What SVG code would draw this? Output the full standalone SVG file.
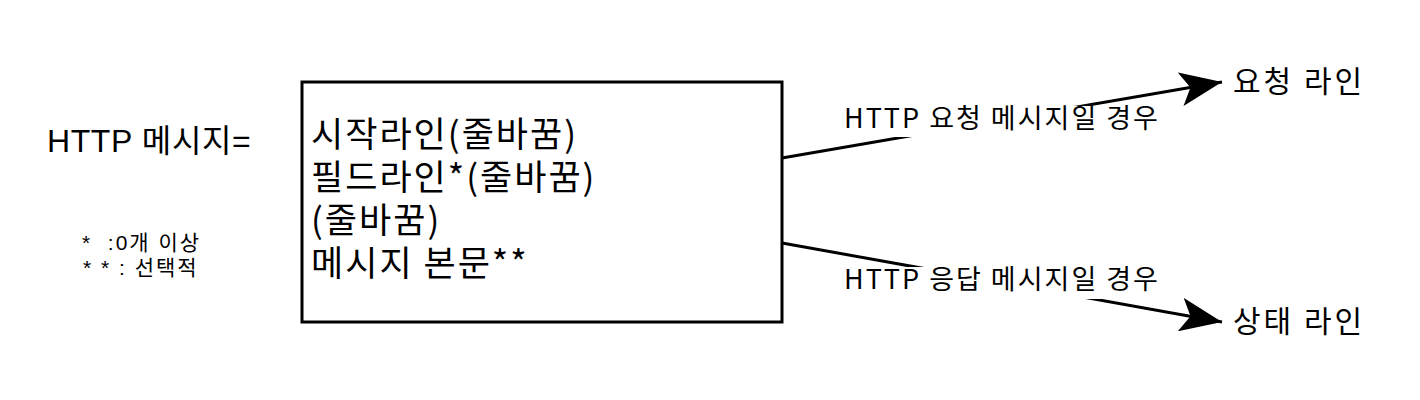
<svg xmlns="http://www.w3.org/2000/svg" width="1420" height="400" viewBox="0 0 1420 400">
<style>
  text { font-family: "Liberation Sans", "Noto Sans CJK KR", sans-serif; fill: #000; }
  .cjk { font-family: "Noto Sans CJK KR", sans-serif; }
  .edge { stroke: #000; stroke-width: 3; fill: none; }
  .lblbg { fill: #fff; stroke: none; }
  .elbl { font-size: 27px; letter-spacing: 2px; }
  .node { font-size: 30px; letter-spacing: 3px; }
  .foot { font-size: 21px; letter-spacing: 2px; white-space: pre; }
</style>
<defs>
  <marker id="arrow" markerUnits="userSpaceOnUse" viewBox="0 0 42 34" markerWidth="42" markerHeight="34" refX="42" refY="17" orient="auto">
    <path d="M0,0 L42,17 L0,34 L10,17 Z" fill="#000"/>
  </marker>
</defs>
<rect width="1420" height="400" fill="#fff"/>

<g id="connectors">
  <g id="edge-request">
    <line class="edge" x1="782" y1="158" x2="1222" y2="82" marker-end="url(#arrow)"/>
    <rect class="lblbg" x="840" y="106" width="324" height="31"/>
    <text class="cjk elbl" x="844" y="128">HTTP 요청 메시지일 경우</text>
  </g>
  <g id="edge-response">
    <line class="edge" x1="782" y1="243" x2="1222" y2="322" marker-end="url(#arrow)"/>
    <rect class="lblbg" x="840" y="267" width="324" height="32"/>
    <text class="cjk elbl" x="844" y="289">HTTP 응답 메시지일 경우</text>
  </g>
</g>

<g id="label-http-message">
  <text x="47" y="152" font-size="32" letter-spacing="0.6">HTTP 메시지=</text>
</g>

<g id="footnote">
  <text class="foot" x="82" y="250" xml:space="preserve">*  :0개 이상</text>
  <text class="foot" x="83" y="275" xml:space="preserve">* * : 선택적</text>
</g>

<g id="message-box">
  <rect x="302" y="82" width="480" height="240" fill="#fff" stroke="#000" stroke-width="3"/>
  <text class="cjk" font-size="35" letter-spacing="2">
    <tspan x="311" y="147">시작라인(줄바꿈)</tspan>
    <tspan x="311" y="190">필드라인*(줄바꿈)</tspan>
    <tspan x="311" y="233">(줄바꿈)</tspan>
    <tspan x="311" y="276">메시지 본문**</tspan>
  </text>
</g>

<g id="request-line">
  <text class="cjk node" x="1233" y="92">요청 라인</text>
</g>

<g id="status-line">
  <text class="cjk node" x="1233" y="332">상태 라인</text>
</g>
</svg>
